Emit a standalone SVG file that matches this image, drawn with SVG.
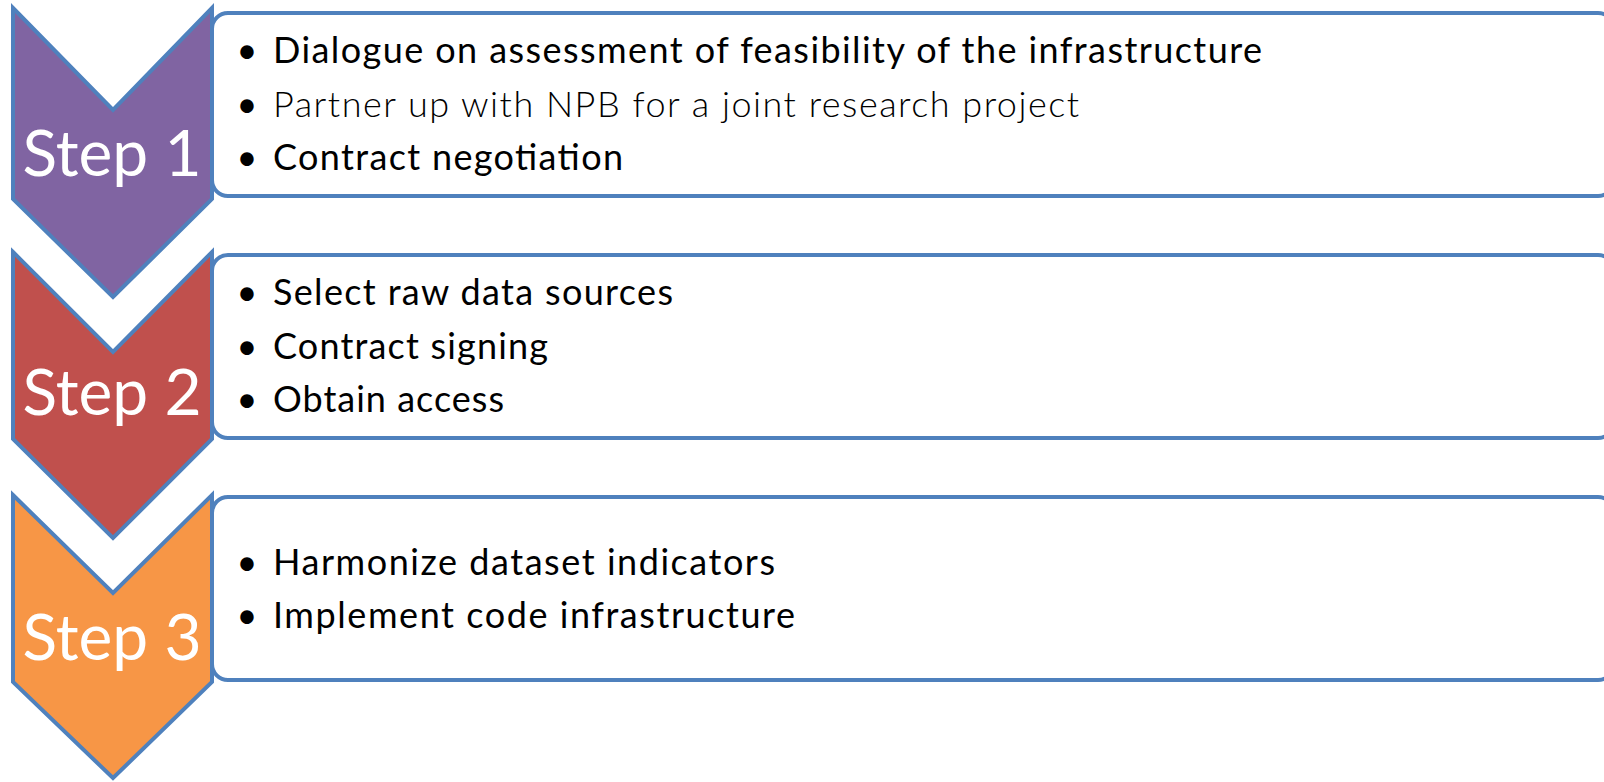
<svg xmlns="http://www.w3.org/2000/svg" width="1604" height="782" viewBox="0 0 1604 782">
<style>
.box{fill:#fff;stroke:#4F81BD;stroke-width:4}
.chev{stroke:#4F81BD;stroke-width:4;stroke-linejoin:miter}
.step{font-family:Lato,"Liberation Sans",sans-serif;font-size:64px;fill:#fff;text-anchor:middle}
.item{font-family:Lato,"Liberation Sans",sans-serif;font-size:36px;fill:#000}
.light{font-weight:300;fill:#000}
.bul{font-family:Lato,"Liberation Sans",sans-serif;font-size:36px;fill:#000;text-anchor:middle}
</style>
<rect width="1604" height="782" fill="#fff"/>
<g id="box1">
<rect class="box" x="212" y="13" width="1402" height="183" rx="16"/>
<text class="bul" x="247" y="63">•</text>
<text class="item" x="273" y="63" textLength="989" lengthAdjust="spacing">Dialogue on assessment of feasibility of the infrastructure</text>
<text class="bul" x="247" y="117">•</text>
<text class="item light" x="273" y="117" textLength="806" lengthAdjust="spacing">Partner up with NPB for a joint research project</text>
<text class="bul" x="247" y="170">•</text>
<text class="item" x="273" y="170" textLength="350" lengthAdjust="spacing">Contract negotiation</text>
</g>
<g id="box2">
<rect class="box" x="212" y="255" width="1402" height="183" rx="16"/>
<text class="bul" x="247" y="305">•</text>
<text class="item" x="273" y="305" textLength="400" lengthAdjust="spacing">Select raw data sources</text>
<text class="bul" x="247" y="359">•</text>
<text class="item" x="273" y="359" textLength="275" lengthAdjust="spacing">Contract signing</text>
<text class="bul" x="247" y="412">•</text>
<text class="item" x="273" y="412" textLength="231" lengthAdjust="spacing">Obtain access</text>
</g>
<g id="box3">
<rect class="box" x="212" y="497" width="1402" height="183" rx="16"/>
<text class="bul" x="247" y="575">•</text>
<text class="item" x="273" y="575" textLength="502" lengthAdjust="spacing">Harmonize dataset indicators</text>
<text class="bul" x="247" y="628">•</text>
<text class="item" x="273" y="628" textLength="522" lengthAdjust="spacing">Implement code infrastructure</text>
</g>
<g id="step1">
<polygon class="chev" fill="#8064A2" points="13,8 113,110 212,8 212,199 113,297 13,199"/>
<text class="step" x="112" y="176">Step 1</text>
</g>
<g id="step2">
<polygon class="chev" fill="#C0504D" points="13,252 113,352 212,252 212,439 113,538 13,439"/>
<text class="step" x="112" y="415">Step 2</text>
</g>
<g id="step3">
<polygon class="chev" fill="#F79646" points="13,495 113,593 212,495 212,682 113,778 13,682"/>
<text class="step" x="112" y="660">Step 3</text>
</g>
<g id="connectors"></g>
</svg>
